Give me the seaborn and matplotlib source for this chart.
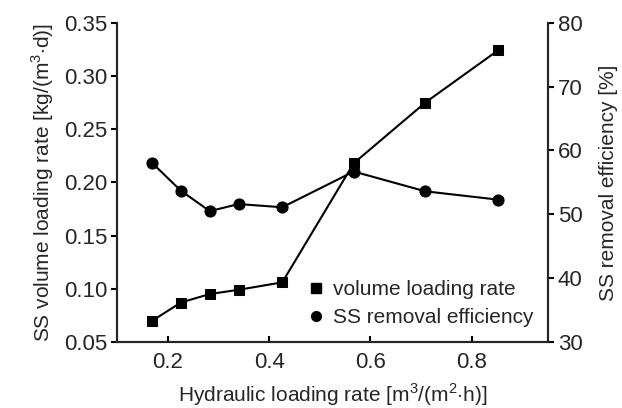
import numpy as np
import pandas as pd
import seaborn as sns
import matplotlib.pyplot as plt

# hydraulic loading rate
hlr = [0.17, 0.226, 0.283, 0.34, 0.426, 0.567, 0.708, 0.851]
# SS volume loading rate kg/(m3 d)
vlr = [0.070, 0.087, 0.095, 0.099, 0.106, 0.218, 0.275, 0.324]
# SS removal efficiency %
eff = [58.0, 53.7, 50.5, 51.6, 51.1, 56.7, 53.6, 52.3]

df = pd.DataFrame({"hlr": hlr, "vlr": vlr, "eff": eff})

sns.set_style("ticks")
plt.rcParams["font.family"] = ["Liberation Sans", "DejaVu Sans"]
plt.rcParams["mathtext.fontset"] = "custom"
plt.rcParams["mathtext.rm"] = "Liberation Sans"

fig = plt.figure(figsize=(6.22, 4.08), dpi=100)
ax = fig.add_axes([0.188, 0.162, 0.693, 0.782])
ax2 = ax.twinx()

sns.lineplot(data=df, x="hlr", y="vlr", ax=ax, color="black", marker="s",
             markersize=7, linewidth=1.5, markeredgecolor="black")
sns.lineplot(data=df, x="hlr", y="eff", ax=ax2, color="black", marker="o",
             markersize=8, linewidth=1.5, markeredgecolor="black")

ax.set_xlim(0.1, 0.95)
ax.set_ylim(0.05, 0.35)
ax2.set_ylim(30, 80)
ax.set_xticks([0.2, 0.4, 0.6, 0.8])
ax.set_yticks(np.arange(0.05, 0.351, 0.05))
ax2.set_yticks(range(30, 81, 10))
ax.set_xticklabels(["0.2", "0.4", "0.6", "0.8"])
ax.set_yticklabels(["%.2f" % v for v in np.arange(0.05, 0.351, 0.05)])

for a in (ax, ax2):
    a.spines["top"].set_visible(False)
    for s in a.spines.values():
        s.set_linewidth(1.5)
    a.tick_params(labelsize=16, width=1.5, length=4, color="black", pad=3)
ax.tick_params(axis="x", direction="in", pad=7)

ax.set_xlabel(r"Hydraulic loading rate [m$^{3}$/(m$^{2}$$\cdot$h)]", fontsize=15, labelpad=6)
ax.set_ylabel(r"SS volume loading rate [kg/(m$^{3}$$\cdot$d)]", fontsize=15, labelpad=6)
ax2.set_ylabel("SS removal efficiency [%]", fontsize=15, labelpad=12)

h1 = plt.Line2D([], [], color="black", marker="s", linestyle="none", markersize=7)
h2 = plt.Line2D([], [], color="black", marker="o", linestyle="none", markersize=7)
ax2.legend([h1, h2], ["volume loading rate", "SS removal efficiency"],
           loc="lower right", bbox_to_anchor=(1.0, 0.0), frameon=False,
           fontsize=15, handlelength=0.6, handletextpad=0.5, labelspacing=0.45,
           borderpad=0.2)

fig.savefig("out.png", dpi=100)
